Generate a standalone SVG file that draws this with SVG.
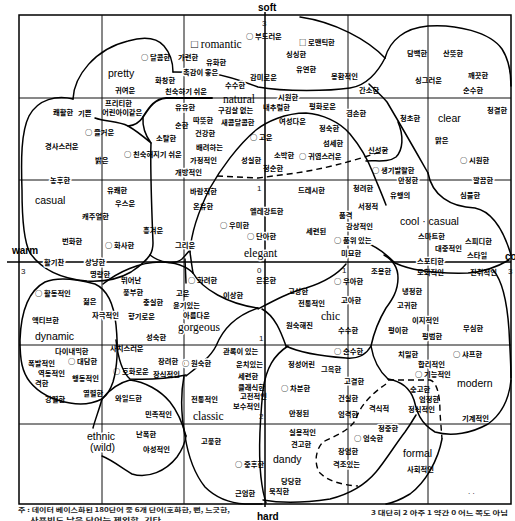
<svg xmlns="http://www.w3.org/2000/svg" width="515" height="521" viewBox="0 0 515 521">
<style>
.k{font-family:"Noto Sans CJK KR","Noto Sans",sans-serif;font-size:7.3px;font-weight:700;fill:#000}
.h{paint-order:stroke;stroke:#fff;stroke-width:3px;stroke-linejoin:round}
.e{font-family:"Liberation Sans",sans-serif;font-size:10.5px;fill:#000}
.s{font-family:"Liberation Serif",serif;font-size:11.5px;fill:#000}
.ax{font-family:"Liberation Sans",sans-serif;font-size:10px;font-weight:700;fill:#000}
.n{font-family:"Liberation Sans",sans-serif;font-size:8px;fill:#111}
.g{fill:none;stroke:#111;stroke-width:1}
.a{fill:none;stroke:#000;stroke-width:1.5}
.c{fill:none;stroke:#000;stroke-width:1.5;stroke-linecap:round;stroke-linejoin:round}
.d{fill:none;stroke:#000;stroke-width:1.4;stroke-dasharray:6 4}
.f{font-family:"Noto Sans CJK KR","Noto Sans",sans-serif;font-size:6px;font-weight:700;fill:#222}
</style>
<rect width="515" height="521" fill="#fff"/>
<g id="grid">
<rect x="19" y="15" width="492" height="489" class="a"/>
<path class="g" d="M102,15V504M184,15V504M348,15V504M428,15V504M19,98H511M19,180H511M19,345H511M19,424H511"/>
<path class="a" d="M265,12V507M7,262H511"/>
</g>
<g id="connectors">
<path class="c" d="M73,99 C74,76 95,49 128,41 C142,37 156,37 164,46 C170,53 173,63 173,72"/>
<path class="c" d="M73,99 C57,95 38,99 29,116 C21,132 21,160 22,190 C22,215 23,240 30,253 C42,270 62,279 87,281 C106,282 121,278 131,272 C140,266 146,261 150,255"/>
<path class="c" d="M173,72 C185,72 200,72 210,73 C222,75 240,80 258,87 C285,92 330,91 350,88 C366,86 378,72 385,58"/>
<path class="c" d="M300,17 C335,22 368,40 385,58"/>
<path class="c" d="M385,58 C390,40 405,28 428,26 C456,24 490,32 502,49 C509,60 511,72 511,86"/>
<path class="c" d="M369,84 C376,91 382,96 387,102 C400,124 415,150 428,173"/>
<path class="c" d="M398,122 C404,136 403,150 396,157 C388,163 376,160 366,161"/>
<path class="c" d="M428,173 C432,195 450,207 475,208 C495,212 505,235 511,255"/>
<path class="c" d="M95,118 C106,122 118,121 128,126"/>
<path class="c" d="M128,126 Q138,125 143,117 Q142,131 151,143 Q137,131 128,126 Z"/>
<path class="c" d="M143,117 C150,106 155,99 166,98 L212,98" style="stroke-width:1.9"/>
<path class="c" d="M151,143 C150,170 152,215 153,243 Q153,250 150,255"/>
<path class="c" d="M150,255 C160,263 175,265 182,259 C186,255 188,252 190,250"/>
<path class="c" d="M190,252 C191,235 198,212 210,188 C220,170 238,145 256,130 C266,122 285,113 306,113 C322,114 340,122 350,134 C360,146 368,160 373,173 C377,183 381,192 386,205"/>
<path class="c" d="M185,259 L186,283 M190,252 C191,260 192,267 193,273"/>
<path class="c" d="M193,273 C202,289 228,304 258,308"/>
<path class="c" d="M258,309 C275,300 290,292 306,288 C322,283 337,275 346,264"/>
<path class="c" d="M103,284 C118,272 140,262 160,262 C176,262 187,267 193,273"/>
<path class="c" d="M258,308 C240,314 224,326 216,346 C210,358 196,368 186,376"/>
<path class="c" d="M116,340 C118,358 122,372 130,379 C148,380 170,378 186,375"/>
<path class="c" d="M20,340 C21,310 30,290 45,282 C60,276 80,280 95,284 C108,290 114,305 116,325 C118,345 118,365 113,382 C110,391 106,396 102,399 C92,404 80,405 70,403 C52,400 38,392 30,382 C22,372 20,360 20,340"/>
<path class="c" d="M102,399 C110,389 118,383 130,380 C145,382 160,390 170,402 C178,412 183,425 186,436"/>
<path class="c" d="M102,399 C99,410 95,420 93,428"/>
<path class="c" d="M102,456 C112,460 122,468 132,474 C148,479 166,471 177,457 C182,450 185,443 186,436"/>
<path class="c" d="M184,376 C181,392 181,415 185,436 C188,455 193,472 205,487 C215,497 228,503 245,504 L262,504"/>
<path class="c" d="M288,346 C274,355 266,368 263,390 C260,420 258,460 262,485 C263,493 265,499 266,503"/>
<path class="c" d="M262,309 C275,316 281,332 286,346"/>
<path class="c" d="M286,346 C298,352 320,356 346,358 C357,359 366,355 371,346"/>
<path class="c" d="M384,255 C393,260 398,268 398,278 C398,291 392,300 386,308 C380,318 374,332 371,346 C373,358 378,370 388,379"/>
<path class="c" d="M366,243 C376,246 386,254 395,263 C410,270 430,274 468,273 C485,272 497,267 509,260"/>
<path class="c" d="M493,270 C502,280 507,300 509,330 C510,350 511,365 511,378"/>
<path class="c" d="M388,379 C400,381 410,388 414,400 C417,412 420,423 435,432 C452,437 472,433 488,424 C502,414 509,400 511,380"/>
<path class="c" d="M263,500 C285,504 310,502 330,499 C350,494 365,485 376,472 C386,460 395,445 405,432 C410,425 413,420 416,415"/>
<path class="c" d="M442,439 C438,460 426,482 410,494 C400,500 392,503 386,504"/>
<path class="d" d="M388,380 L430,380 C437,382 440,395 440,413 L442,439"/>
<path class="d" d="M386,384 C374,392 360,405 356,419 C350,431 332,437 323,442 C315,450 314,465 320,473 C328,481 342,485 358,486"/>
<path class="d" d="M217,176 L258,178 L296,173 C322,169 348,163 386,150"/>
</g>
<g id="axes-labels">
<text class="ax" x="258" y="11">soft</text>
<text class="ax" x="257" y="520">hard</text>
<text class="ax" x="12" y="254">warm</text>
<text class="ax" x="505" y="260">cool</text>
<text class="n" x="262" y="26">3</text>
<text class="n" x="257" y="191">1</text>
<text class="n" x="257" y="273">0</text>
<text class="n" x="342" y="273">1</text>
<text class="n" x="259" y="341">1</text>
<text class="n" x="259" y="419">2</text>
<text class="n" x="21" y="274">3</text>
<text class="n" x="508" y="274">3</text>
</g>
<g id="category-labels">
<text class="e" x="108" y="77">pretty</text>
<text class="s" x="191" y="48">□ romantic</text>
<text class="s" x="223" y="103">natural</text>
<text class="e" x="438" y="122">clear</text>
<text class="e" x="35" y="204">casual</text>
<text class="s h" x="244" y="257">elegant</text>
<text class="e" x="400" y="225">cool · casual</text>
<text class="e" x="35" y="340">dynamic</text>
<text class="s h" x="178" y="331">gorgeous</text>
<text class="s" x="321" y="320">chic</text>
<text class="e" x="457" y="387">modern</text>
<text class="e h" x="87" y="440">ethnic</text>
<text class="e h" x="90" y="451">(wild)</text>
<text class="s" x="193" y="420">classic</text>
<text class="e" x="273" y="463">dandy</text>
<text class="e" x="403" y="457">formal</text>
</g>
<g id="words">
<text class="k" x="115" y="93">귀여운</text>
<text class="k" x="105" y="106">프리티한</text>
<text class="k" x="102" y="115">어린아이같은</text>
<text class="k" x="53" y="115">쾌활한</text>
<text class="k" x="78" y="116">기쁜</text>
<text class="k" x="85" y="135">○ 즐거운</text>
<text class="k" x="45" y="149">경사스러운</text>
<text class="k" x="124" y="157">○ 친숙해지기 쉬운</text>
<text class="k" x="95" y="163">밝은</text>
<text class="k" x="141" y="60">○ 달콤한</text>
<text class="k" x="178" y="60">가련한</text>
<text class="k" x="246" y="39">○ 부드러운</text>
<text class="k" x="206" y="65">유화한</text>
<text class="k h" x="183" y="75">촉감이 좋은</text>
<text class="k" x="155" y="83">화창한</text>
<text class="k" x="165" y="94">친숙하기 쉬운</text>
<text class="k h" x="225" y="88">수수한</text>
<text class="k h" x="175" y="110">유유한</text>
<text class="k" x="218" y="113">구김살 없는</text>
<text class="k" x="175" y="128">순한</text>
<text class="k" x="193" y="123">따뜻한</text>
<text class="k" x="221" y="125">새콤달콤한</text>
<text class="k" x="195" y="136">건강한</text>
<text class="k" x="156" y="141">소탈한</text>
<text class="k" x="196" y="150">배려하는</text>
<text class="k" x="190" y="163">가정적인</text>
<text class="k h" x="175" y="175">개방적인</text>
<text class="k" x="241" y="163">성실한</text>
<text class="k" x="299" y="45">□ 로맨틱한</text>
<text class="k" x="286" y="57">싱싱한</text>
<text class="k" x="296" y="72">유연한</text>
<text class="k" x="250" y="80">감미로운</text>
<text class="k" x="331" y="79">몽환적인</text>
<text class="k" x="359" y="93">간소한</text>
<text class="k h" x="278" y="100">시원한</text>
<text class="k" x="263" y="110">내추럴한</text>
<text class="k" x="309" y="109">평화로운</text>
<text class="k h" x="346" y="116">겸손한</text>
<text class="k" x="279" y="124">여성다운</text>
<text class="k" x="250" y="140">○ 고운</text>
<text class="k" x="319" y="131">정숙한</text>
<text class="k" x="323" y="146">섬세한</text>
<text class="k" x="368" y="153">신선한</text>
<text class="k" x="274" y="158">소박한</text>
<text class="k" x="299" y="159">○ 귀염스러운</text>
<text class="k" x="263" y="171">청순한</text>
<text class="k" x="372" y="173">○ 생기발랄한</text>
<text class="k" x="407" y="56">담백한</text>
<text class="k" x="443" y="56">산뜻한</text>
<text class="k" x="415" y="83">싱그러운</text>
<text class="k" x="468" y="78">깨끗한</text>
<text class="k" x="463" y="93">순수한</text>
<text class="k" x="400" y="121">청초한</text>
<text class="k" x="487" y="113">청결한</text>
<text class="k" x="435" y="143">맑은</text>
<text class="k" x="460" y="163">○ 시원한</text>
<text class="k h" x="50" y="183">농후한</text>
<text class="k" x="107" y="193">유쾌한</text>
<text class="k" x="115" y="206">우스운</text>
<text class="k" x="82" y="219">캐주얼한</text>
<text class="k" x="62" y="244">번화한</text>
<text class="k" x="105" y="248">○ 화사한</text>
<text class="k h" x="44" y="265">활기찬</text>
<text class="k h" x="85" y="265">상냥한</text>
<text class="k" x="90" y="277">명랑한</text>
<text class="k" x="35" y="296">○ 활동적인</text>
<text class="k" x="83" y="304">젊은</text>
<text class="k h" x="92" y="318">자극적인</text>
<text class="k" x="32" y="323">액티브한</text>
<text class="k" x="121" y="283">뛰어난</text>
<text class="k" x="123" y="295">풍부한</text>
<text class="k" x="143" y="305">충실한</text>
<text class="k" x="128" y="319">향기로운</text>
<text class="k" x="146" y="340">성숙한</text>
<text class="k" x="190" y="194">바람직한</text>
<text class="k" x="193" y="209">온유한</text>
<text class="k" x="220" y="228">○ 우미한</text>
<text class="k" x="143" y="233">흥겨운</text>
<text class="k h" x="175" y="248">그리운</text>
<text class="k" x="188" y="283">○ 화려한</text>
<text class="k" x="223" y="298">이상한</text>
<text class="k" x="176" y="296">고운</text>
<text class="k h" x="173" y="308">윤기있는</text>
<text class="k h" x="183" y="318">아름다운</text>
<text class="k h" x="250" y="214">엘레강트한</text>
<text class="k h" x="247" y="239">○ 단아한</text>
<text class="k" x="298" y="193">드레시한</text>
<text class="k h" x="353" y="191">청려한</text>
<text class="k" x="306" y="234">세련된</text>
<text class="k" x="358" y="209">서정적</text>
<text class="k h" x="339" y="218">품격</text>
<text class="k h" x="346" y="229">감상적인</text>
<text class="k h" x="334" y="243">○ 품위 있는</text>
<text class="k h" x="341" y="256">미묘한</text>
<text class="k" x="256" y="283">은은한</text>
<text class="k" x="334" y="284">○ 우아한</text>
<text class="k" x="288" y="294">고상한</text>
<text class="k h" x="341" y="303">고아한</text>
<text class="k" x="298" y="306">전통적인</text>
<text class="k" x="286" y="328">원숙해진</text>
<text class="k" x="338" y="333">수수한</text>
<text class="k h" x="371" y="274">조용한</text>
<text class="k h" x="398" y="183">안정한</text>
<text class="k h" x="473" y="183">깔끔한</text>
<text class="k" x="390" y="198">유행의</text>
<text class="k" x="460" y="198">심플한</text>
<text class="k" x="418" y="239">스마트한</text>
<text class="k" x="435" y="251">대중적인</text>
<text class="k" x="465" y="244">스피디한</text>
<text class="k" x="467" y="258">스타일</text>
<text class="k h" x="417" y="264">스포티한</text>
<text class="k" x="417" y="275">도회적인</text>
<text class="k" x="470" y="275">진취적인</text>
<text class="k" x="402" y="294">냉정한</text>
<text class="k" x="397" y="308">고귀한</text>
<text class="k h" x="412" y="323">이지적인</text>
<text class="k" x="463" y="331">무심한</text>
<text class="k" x="388" y="333">평이한</text>
<text class="k h" x="422" y="339">평범한</text>
<text class="k" x="55" y="354">다이내믹한</text>
<text class="k" x="68" y="364">○ 대담한</text>
<text class="k" x="28" y="366">폭발적인</text>
<text class="k" x="38" y="376">역동적인</text>
<text class="k" x="72" y="381">행동적인</text>
<text class="k" x="35" y="386">격한</text>
<text class="k" x="83" y="396">열렬한</text>
<text class="k" x="45" y="402">강렬한</text>
<text class="k" x="113" y="374">○ 호화로운</text>
<text class="k" x="110" y="351">사치스러운</text>
<text class="k" x="158" y="364">장려한</text>
<text class="k h" x="182" y="366">○ 원숙한</text>
<text class="k" x="153" y="377">장식적인</text>
<text class="k" x="223" y="354">관록이 있는</text>
<text class="k" x="236" y="367">운치있는</text>
<text class="k" x="238" y="379">세련한</text>
<text class="k" x="238" y="390">클래식한</text>
<text class="k" x="240" y="399">고전적인</text>
<text class="k" x="233" y="409">보수적인</text>
<text class="k" x="191" y="402">전통적인</text>
<text class="k" x="115" y="401">와일드한</text>
<text class="k" x="145" y="417">민족적인</text>
<text class="k" x="136" y="437">난폭한</text>
<text class="k" x="143" y="452">야성적인</text>
<text class="k" x="201" y="444">고풍한</text>
<text class="k" x="235" y="467">○ 중후한</text>
<text class="k" x="235" y="496">근엄한</text>
<text class="k" x="334" y="354">○ 순수한</text>
<text class="k" x="288" y="367">정성어린</text>
<text class="k" x="321" y="372">그윽한</text>
<text class="k h" x="344" y="384">고결한</text>
<text class="k" x="281" y="391">○ 차분한</text>
<text class="k" x="338" y="401">건실한</text>
<text class="k" x="289" y="416">안정된</text>
<text class="k" x="338" y="417">엄격한</text>
<text class="k" x="369" y="411">격식적</text>
<text class="k" x="289" y="435">실용적인</text>
<text class="k" x="354" y="441">○ 엄숙한</text>
<text class="k" x="291" y="447">견고한</text>
<text class="k" x="338" y="454">장엄한</text>
<text class="k h" x="333" y="467">격조있는</text>
<text class="k" x="281" y="484">당당한</text>
<text class="k" x="269" y="494">묵직한</text>
<text class="k" x="398" y="357">치밀한</text>
<text class="k" x="453" y="357">○ 샤프한</text>
<text class="k h" x="418" y="367">합리적인</text>
<text class="k" x="415" y="377">○ 기능적인</text>
<text class="k" x="410" y="392">숭고한</text>
<text class="k" x="419" y="402">엄정한</text>
<text class="k" x="408" y="412">정식적인</text>
<text class="k" x="462" y="421">기계적인</text>
<text class="k h" x="378" y="431">정중한</text>
<text class="k" x="407" y="472">사회적인</text>
<text class="n" x="468" y="494">. .</text>
</g>
<g id="notes">
<text class="f" x="18" y="512" textLength="212" lengthAdjust="spacingAndGlyphs">주 : 데이터 베이스화된 180단어 중 6개 단어(호화한, 뻔, 느긋한,</text>
<text class="f" x="30" y="522" textLength="131" lengthAdjust="spacingAndGlyphs">사용빈도 낮은 단어는 제외함, 기타</text>
<text class="f" x="371" y="515" textLength="137" lengthAdjust="spacingAndGlyphs">3 대단히 2 아주 1 약간 0 어느 쪽도 아님</text>
</g>
</svg>
